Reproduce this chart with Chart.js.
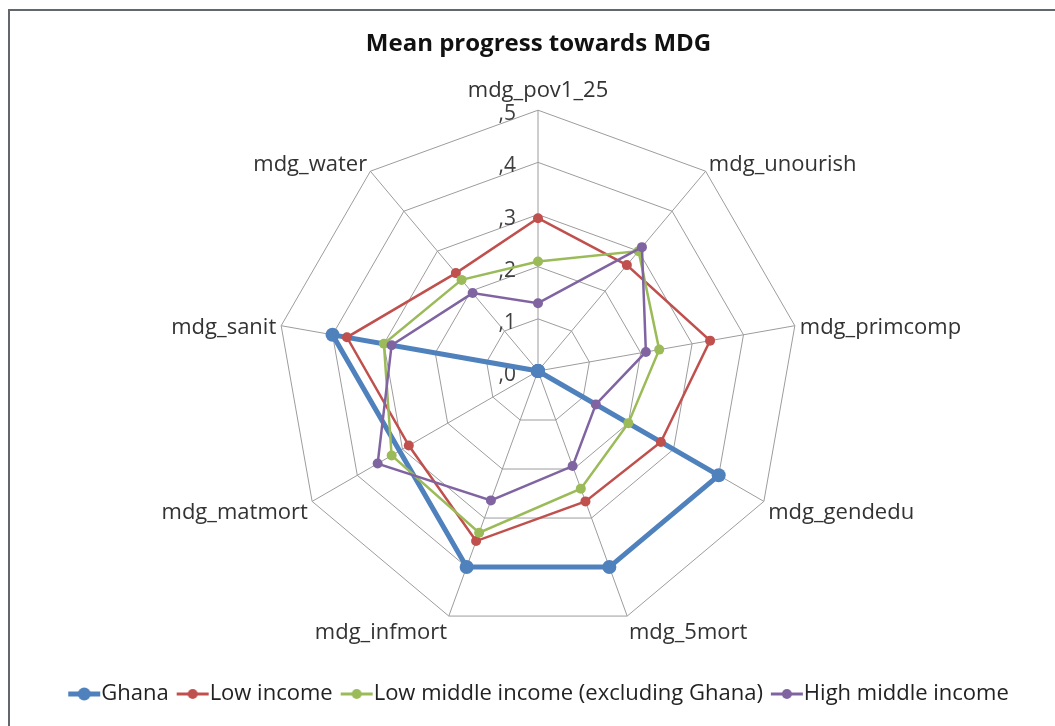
<!DOCTYPE html>
<html>
<head>
<meta charset="utf-8">
<script src="https://cdn.jsdelivr.net/npm/chart.js@4/dist/chart.umd.min.js"></script>
<style>
  html, body { margin: 0; padding: 0; background: #fff; }
  #wrap { position: relative; width: 1055px; height: 726px; overflow: hidden; }
  #frame { position: absolute; left: 8px; top: 9px; width: 1100px; height: 800px;
           border-left: 2px solid #61676c; border-top: 2px solid #61676c; }
  #myChart { position: absolute; left: 0; top: 0; }
</style>
</head>
<body>
<div id="wrap">
  <div id="frame"></div>
  <canvas id="myChart" width="1055" height="726"></canvas>
</div>
<script>
// axes of the radar
const categories = ['mdg_pov1_25', 'mdg_unourish', 'mdg_primcomp', 'mdg_gendedu', 'mdg_5mort',
                    'mdg_infmort', 'mdg_matmort', 'mdg_sanit', 'mdg_water'];

// series values
const ghana      = [0, 0, 0, 0.40, 0.40, 0.40, null, 0.40, 0];
const lowIncome  = [0.293, 0.265, 0.335, 0.272, 0.266, 0.347, 0.286, 0.372, 0.245];
const lowMiddle  = [0.21, 0.30, 0.236, 0.20, 0.24, 0.33, 0.324, 0.30, 0.228];
const highMiddle = [0.13, 0.31, 0.21, 0.128, 0.194, 0.264, 0.355, 0.285, 0.195];

// tick labels (decimal comma, no leading zero)
const tickValues = [0, 0.1, 0.2, 0.3, 0.4, 0.5];
const tickLabels = [',0', ',1', ',2', ',3', ',4', ',5'];

const FONT = '"Open Sans", "DejaVu Sans", sans-serif';

// little line+dot images for the legend (drawn in the right part so it hugs the text)
function legendMark(color, lw, r) {
  const c = document.createElement('canvas');
  c.width = 44; c.height = 16;
  const g = c.getContext('2d');
  g.strokeStyle = color; g.lineWidth = lw;
  g.beginPath(); g.moveTo(11, 8); g.lineTo(43, 8); g.stroke();
  g.fillStyle = color;
  g.beginPath(); g.arc(27, 8, r, 0, Math.PI * 2); g.fill();
  return c;
}

// tick text left of the top axis, and axis names placed the way Excel does
// (side names centred on their spoke instead of sitting above/below it)
const axisText = {
  id: 'axisText',
  beforeDatasetsDraw(chart) {
    const r = chart.scales.r;
    const ctx = chart.ctx;
    ctx.save();
    ctx.font = '21px ' + FONT;
    ctx.fillStyle = '#404040';
    ctx.textAlign = 'right';
    ctx.textBaseline = 'middle';
    tickValues.forEach((v, i) => {
      const y = r.yCenter - r.getDistanceFromCenterForValue(v);
      ctx.fillText(tickLabels[i], r.xCenter - 22, y + 4);
    });

    ctx.font = '22px ' + FONT;
    ctx.fillStyle = '#333';
    categories.forEach((name, i) => {
      const a = r.getIndexAngle(i);
      const p = r.getPointPosition(i, r.drawingArea + 5);
      const s = Math.sin(a);
      ctx.textAlign = Math.abs(s) < 0.01 ? 'center' : (s > 0 ? 'left' : 'right');
      const dy = i === 0 ? -14 : 4 - 9 * Math.cos(a);
      ctx.fillText(name, p.x, p.y + dy);
    });
    ctx.restore();
  }
};

const ctx = document.getElementById('myChart').getContext('2d');
const chart = new Chart(ctx, {
  type: 'radar',
  data: {
    labels: categories,
    datasets: [
      { label: 'Ghana', data: ghana, borderColor: '#4f81bd', backgroundColor: '#4f81bd',
        borderWidth: 5, pointRadius: 7, pointBorderWidth: 0, spanGaps: true, order: 3, fill: false },
      { label: 'Low income', data: lowIncome, borderColor: '#c0504d', backgroundColor: '#c0504d',
        borderWidth: 2.5, pointRadius: 5, pointBorderWidth: 0, order: 2, fill: false },
      { label: 'Low middle income (excluding Ghana)', data: lowMiddle, borderColor: '#9bbb59', backgroundColor: '#9bbb59',
        borderWidth: 2.5, pointRadius: 5, pointBorderWidth: 0, order: 1, fill: false },
      { label: 'High middle income', data: highMiddle, borderColor: '#8064a2', backgroundColor: '#8064a2',
        borderWidth: 2.5, pointRadius: 5, pointBorderWidth: 0, order: 0, fill: false }
    ]
  },
  options: {
    responsive: false,
    animation: false,
    layout: { padding: { left: 22, bottom: 11 } },
    elements: { line: { tension: 0 } },
    scales: {
      r: {
        min: 0, max: 0.5,
        ticks: { stepSize: 0.1, display: false },
        grid: { color: '#9c9c9c', lineWidth: 1 },
        angleLines: { color: '#9c9c9c', lineWidth: 1 },
        // kept for sizing the radar; the visible names are drawn by axisText
        pointLabels: { font: { size: 22, family: FONT }, color: 'rgba(0,0,0,0)', padding: 5 }
      }
    },
    plugins: {
      tooltip: { enabled: false },
      title: {
        display: true, text: 'Mean progress towards MDG', color: '#111',
        font: { size: 24, weight: 'bold', family: FONT },
        padding: { top: 30, bottom: 12 }
      },
      legend: {
        position: 'bottom',
        title: { display: true, text: ' ', font: { size: 10 }, padding: { top: 7, bottom: 0 } },
        labels: {
          usePointStyle: true, pointStyleWidth: 22, padding: 8,
          color: '#222', font: { size: 22, family: FONT },
          generateLabels(ch) {
            return ch.data.datasets.map((ds, i) => ({
              text: ds.label,
              fillStyle: ds.borderColor,
              strokeStyle: ds.borderColor,
              lineWidth: 0,
              hidden: false,
              datasetIndex: i,
              fontColor: '#222',
              pointStyle: legendMark(ds.borderColor, i === 0 ? 5 : 3, i === 0 ? 6.5 : 5)
            }));
          }
        }
      }
    }
  },
  plugins: [axisText]
});
</script>
</body>
</html>
